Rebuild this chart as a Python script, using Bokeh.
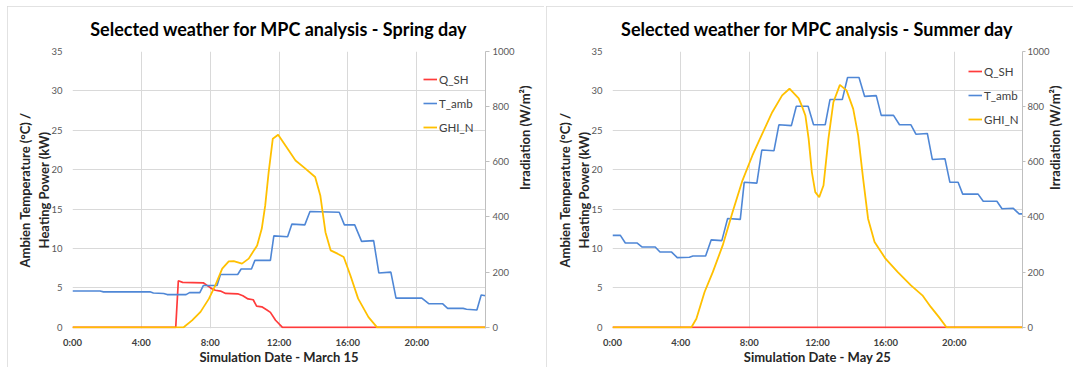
import math
from bokeh.plotting import figure
from bokeh.models import Range1d, LinearAxis, FixedTicker, Legend, LegendItem
from bokeh.layouts import row
from bokeh.embed import file_html
from bokeh.resources import INLINE

# ---------------- Spring day (March 15) ----------------
spring_T_hours = [0, 1.6, 1.8, 4.5, 4.7, 5.3, 5.5, 6.6, 6.8, 7.4, 7.6, 8.4, 8.6, 9.6, 9.8, 10.4,
                  10.6, 11.5, 11.7, 12.5, 12.75, 13.5, 13.8, 15.5, 15.8, 16.4, 16.8, 17.5, 17.8,
                  18.5, 18.8, 20.3, 20.7, 21.5, 21.8, 22.7, 22.9, 23.5, 23.75, 24]
spring_T = [4.6, 4.6, 4.5, 4.5, 4.35, 4.3, 4.15, 4.15, 4.4, 4.4, 5.3, 5.3, 6.7, 6.7, 7.4, 7.4,
            8.5, 8.5, 11.6, 11.5, 13.1, 13.0, 14.7, 14.6, 13.0, 13.0, 10.9, 11.0, 6.9,
            7.0, 3.7, 3.7, 3.0, 3.0, 2.4, 2.4, 2.3, 2.2, 4.1, 4.0]

spring_Q_hours = [0, 6.0, 6.15, 6.4, 7.6, 7.9, 8.1, 8.3, 8.6, 8.9, 9.6, 9.9, 10.2, 10.5, 10.7,
                  11.0, 11.3, 11.5, 11.8, 12.2, 24]
spring_Q = [0, 0, 5.9, 5.7, 5.65, 5.2, 4.9, 4.7, 4.6, 4.3, 4.25, 4.0, 3.6, 3.5, 2.7,
            2.6, 2.2, 1.9, 0.9, 0, 0]

spring_G_hours = [0, 6.46, 6.95, 7.44, 7.93, 8.3, 8.7, 9.08, 9.37, 9.85, 10.24, 10.73, 11.0, 11.2,
                  11.4, 11.64, 11.95, 12.57, 12.96, 13.5, 14.1, 14.4, 14.7, 15.0, 15.4, 15.76,
                  16.15, 16.6, 17.2, 17.7, 24]
spring_G = [0, 0, 25, 56, 104, 152, 213, 239, 240, 231, 249, 297, 358, 442,
            563, 684, 698, 641, 605, 577, 545, 478, 345, 279, 267, 255,
            188, 104, 37, 0, 0]

# ---------------- Summer day (May 25) ----------------
summer_T_hours = [0, 0.46, 0.75, 1.43, 1.72, 2.5, 2.78, 3.46, 3.79, 4.5, 4.71, 5.45, 5.78, 6.4,
                  6.74, 7.48, 7.71, 8.45, 8.74, 9.45, 9.74, 10.47, 10.76, 11.45, 11.77, 12.45,
                  12.73, 13.45, 13.76, 14.43, 14.76, 15.44, 15.73, 16.45, 16.8, 17.47, 17.76,
                  18.43, 18.72, 19.46, 19.75, 20.23, 20.5, 21.4, 21.7, 22.5, 22.8, 23.46, 23.8, 24]
summer_T = [11.67, 11.67, 10.7, 10.7, 10.2, 10.2, 9.55, 9.55, 8.84, 8.9, 9.05, 9.05, 11.1, 11.0,
            13.8, 13.7, 18.4, 18.3, 22.5, 22.4, 25.7, 25.6, 28.06, 28.06, 25.7, 25.7,
            28.9, 28.9, 31.7, 31.7, 29.3, 29.4, 26.9, 26.9, 25.7, 25.7, 24.5,
            24.6, 21.3, 21.4, 18.4, 18.4, 16.9, 16.9, 16.0, 16.0, 15.05, 15.1, 14.4, 14.4]

summer_Q_hours = [0, 24]
summer_Q = [0, 0]

summer_G_hours = [0, 4.62, 4.91, 5.39, 5.87, 6.45, 7.03, 7.61, 8.19, 8.77, 9.35, 9.93, 10.36,
                  10.9, 11.1, 11.29, 11.48, 11.67, 11.87, 12.1, 12.35, 12.64, 12.93, 13.31,
                  13.7, 14.09, 14.38, 14.67, 14.96, 15.34, 15.98, 16.7, 17.47, 18.14, 18.63,
                  19.11, 19.55, 24]
summer_G = [0, 0, 31, 128, 200, 297, 418, 533, 623, 702, 780, 841, 865,
            830, 800, 768, 684, 563, 490, 472, 514, 684, 816, 879,
            859, 792, 696, 539, 394, 309, 249, 200, 152, 116, 74,
            37, 0, 0]

x_ticks = [0, 4, 8, 12, 16, 20]
x_tick_labels = ["0:00", "4:00", "8:00", "12:00", "16:00", "20:00"]
y_ticks = [0, 5, 10, 15, 20, 25, 30, 35]
irr_ticks = [0, 200, 400, 600, 800, 1000]
series_names = ["Q_SH", "T_amb", "GHI_N"]
series_colors = ["#ff3b3b", "#4f87d6", "#ffc000"]
y_label = "Ambien Temperature (°C) /\nHeating Power (kW)"
y2_label = "Irradiation (W/m²)"

FONT = "Lato"
H = 361
TOP = 45
FRAME_H = 277
Y_LOW = -0.15  # keeps the zero lines from being clipped by the frame


def make(title, xlabel, Th, T, Qh, Q, Gh, G, width, bl, frame_w, leg_xy, y2_cfg, margin):
    br = width - bl - frame_w
    p = figure(width=width, height=H, x_range=Range1d(0, 24), y_range=Range1d(Y_LOW, 35),
               output_backend="svg", toolbar_location=None,
               min_border_left=bl, min_border_right=br, min_border_top=TOP,
               min_border_bottom=H - TOP - FRAME_H, margin=margin)
    p.styles = {"outline": "1px solid #d9d9d9", "outline-offset": "-1px"}
    p.extra_y_ranges = {"irr": Range1d(Y_LOW * 1000 / 35, 1000)}
    p.outline_line_color = None

    p.title.text = title
    p.title.align = "center"
    p.title.vertical_align = "top"
    p.title.text_font = FONT
    p.title.text_font_size = "18px"
    p.title.text_font_style = "bold"
    p.title.text_color = "#000000"
    p.title.standoff = 20

    p.xgrid.ticker = FixedTicker(ticks=[0, 4, 8, 12, 16, 20, 24])
    p.ygrid.ticker = FixedTicker(ticks=y_ticks)
    p.xgrid.grid_line_color = "#d9d9d9"
    p.ygrid.grid_line_color = "#d9d9d9"

    xa = p.xaxis[0]
    xa.ticker = FixedTicker(ticks=x_ticks)
    xa.major_label_overrides = {t: l for t, l in zip(x_ticks, x_tick_labels)}
    xa.axis_line_color = None
    xa.major_tick_line_color = None
    xa.major_tick_out = 0
    xa.major_tick_in = 0
    xa.minor_tick_line_color = None
    xa.minor_tick_out = 0
    xa.major_label_text_font = FONT
    xa.major_label_text_font_size = "9.5px"
    xa.major_label_text_font_style = "bold"
    xa.major_label_text_color = "#404040"
    xa.major_label_standoff = 8
    xa.axis_label = xlabel
    xa.axis_label_text_font = FONT
    xa.axis_label_text_font_size = "13px"
    xa.axis_label_text_font_style = "bold"
    xa.axis_label_text_color = "#262626"
    xa.axis_label_standoff = -2

    ya = p.yaxis[0]
    ya.ticker = FixedTicker(ticks=y_ticks)
    ya.axis_line_color = None
    ya.major_tick_line_color = None
    ya.major_tick_out = 0
    ya.major_tick_in = 0
    ya.minor_tick_line_color = None
    ya.minor_tick_out = 0
    ya.major_label_text_font = FONT
    ya.major_label_text_font_size = "9.5px"
    ya.major_label_text_color = "#595959"
    ya.major_label_standoff = 10
    ya.axis_label = y_label
    ya.axis_label_text_font = FONT
    ya.axis_label_text_font_size = "13px"
    ya.axis_label_text_font_style = "bold"
    ya.axis_label_text_color = "#262626"
    ya.axis_label_standoff = -4

    tick_out, lab_standoff, ax_standoff = y2_cfg
    ra = LinearAxis(y_range_name="irr", ticker=FixedTicker(ticks=irr_ticks), axis_label=y2_label)
    ra.axis_line_color = "#bfbfbf"
    ra.major_tick_line_color = "#bfbfbf"
    ra.major_tick_out = tick_out
    ra.major_tick_in = 0
    ra.minor_tick_line_color = None
    ra.minor_tick_out = 0
    ra.major_label_text_font = FONT
    ra.major_label_text_font_size = "9.5px"
    ra.major_label_text_color = "#595959"
    ra.major_label_standoff = lab_standoff
    ra.axis_label_text_font = FONT
    ra.axis_label_text_font_size = "13px"
    ra.axis_label_text_font_style = "bold"
    ra.axis_label_text_color = "#262626"
    ra.axis_label_standoff = ax_standoff
    try:
        ra.axis_label_orientation = math.pi / 2
    except Exception:
        pass
    p.add_layout(ra, "right")

    rq = p.line(Qh, Q, line_color=series_colors[0], line_width=1.7)
    rt = p.line(Th, T, line_color=series_colors[1], line_width=1.6)
    rg = p.line(Gh, G, line_color=series_colors[2], line_width=1.8, y_range_name="irr")

    leg = Legend(items=[LegendItem(label=series_names[0], renderers=[rq]),
                        LegendItem(label=series_names[1], renderers=[rt]),
                        LegendItem(label=series_names[2], renderers=[rg])],
                 location=leg_xy)
    leg.background_fill_alpha = 0
    leg.border_line_color = None
    leg.padding = 0
    leg.margin = 0
    leg.spacing = 6
    leg.glyph_width = 14
    leg.glyph_height = 18
    leg.label_height = 18
    leg.label_standoff = 2
    leg.label_text_font = FONT
    leg.label_text_font_size = "11.5px"
    leg.label_text_color = "#404040"
    p.add_layout(leg)
    return p


p1 = make("Selected weather for MPC analysis - Spring day", "Simulation Date - March 15",
          spring_T_hours, spring_T, spring_Q_hours, spring_Q, spring_G_hours, spring_G,
          537, 65, 413, (351, 192), (4, 3, 7), (6, 0, 0, 7))
p2 = make("Selected weather for MPC analysis - Summer day", "Simulation Date - May 25",
          summer_T_hours, summer_T, summer_Q_hours, summer_Q, summer_G_hours, summer_G,
          527, 66, 414, (356, 200), (3, 2, 2), (6, 0, 0, 2))

layout = row(p1, p2)
open("out.html", "w").write(file_html(layout, INLINE))
